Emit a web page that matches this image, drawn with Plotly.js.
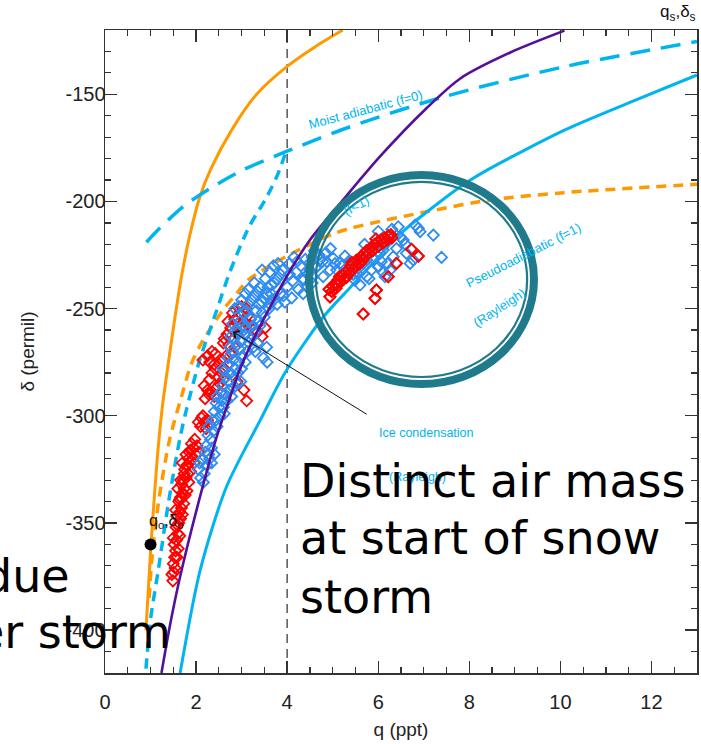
<!DOCTYPE html>
<html>
<head>
<meta charset="utf-8">
<script src="https://cdn.plot.ly/plotly-3.0.1.min.js"></script>
<style>html,body{margin:0;padding:0;background:#fff;}#chart{width:701px;height:744px;}</style>
</head>
<body>
<div id="chart"></div>
<script>
// ---------------- data ----------------
// model curves (q in ppt, delta in permil)
const orangeSolidQ = [0.90, 0.96, 1.02, 1.10, 1.18, 1.27, 1.40, 1.53, 1.68, 1.86, 2.08, 2.32, 2.80, 3.33, 4.00, 4.60, 5.22];
const orangeSolidD = [-400, -378, -357, -333, -312, -294, -274, -255, -235, -216, -198, -185, -166, -150, -137, -128, -120];

const orangeDashQ = [0.97, 1.02, 1.17, 1.42, 1.68, 1.90, 2.12, 2.59, 2.89, 3.14, 3.97, 4.94, 5.39, 7.06, 8.47, 10.07, 13.0];
const orangeDashD = [-385, -369, -341, -311, -291, -275.5, -266, -250.7, -243, -236.7, -225.8, -215.7, -212.5, -204.8, -199.3, -195.9, -192];

const moistQ = [0.91, 1.20, 1.71, 2.30, 3.03, 3.97, 5.39, 7.45, 10.09, 13.0];
const moistD = [-219, -212.5, -202.5, -194, -185.3, -176.8, -165.1, -151.1, -137.1, -125.4];

const iceQ = [0.90, 1.00, 1.17, 1.39, 1.65, 1.79, 2.08, 2.45, 2.74, 3.16, 3.55, 3.80, 3.97];
const iceD = [-418, -395, -372, -341, -310, -297, -274, -251, -233, -212, -198, -187, -177];

const purpleQ = [1.24, 1.42, 1.65, 2.01, 2.45, 2.72, 2.95, 3.22, 3.99, 4.50, 5.16, 6.04, 7.06, 7.81, 8.90, 10.09];
const purpleD = [-420, -398.5, -375, -344, -310, -293, -279, -266, -235, -218, -201, -179, -156.5, -142.5, -130.5, -120.3];

const pseudoQ = [1.65, 2.09, 2.67, 3.41, 3.95, 4.79, 5.39, 5.96, 6.49, 7.81, 8.38, 10.09, 11.5, 13.0];
const pseudoD = [-420, -372, -333, -302, -280, -254, -240, -227, -215, -193, -185.5, -166.7, -154, -141];

// starting point q0, delta0
const startQ = [1.0];
const startD = [-360];

// observations: red diamonds
const redQ = [1.49,1.51,1.50,1.53,1.55,1.52,1.57,1.60,1.56,1.62,1.58,1.64,1.68,1.62,1.66,1.70,1.74,1.68,1.72,1.78,
  1.82,1.75,1.80,1.86,1.92,1.78,1.85,1.95,2.02,1.90,2.10,2.18,2.25,2.12,2.20,2.28,2.36,2.44,2.18,2.52,
  2.48,2.56,2.62,2.50,2.70,2.15,2.25,2.35,2.42,2.66,2.78,2.72,2.82,2.90,2.68,2.76,2.98,3.05,2.85,2.95,
  3.10,3.00,3.20,3.35,3.45,3.52,2.90,3.05,3.11,2.60,2.55,2.35,2.30,
  1.54,1.47,1.58,1.61,1.50,1.64,1.59,1.66,1.70,1.55,1.73,1.64,1.76,1.60,1.80,1.66,1.84,1.74,1.88,1.70,
  1.96,1.83,1.99,1.88,2.06,1.97,2.15,2.05,2.30,2.22,2.40,2.25,2.60,2.42,2.58,2.30,2.85,2.62,2.70,2.92,
  3.08,3.15,2.80,2.40,3.25,
  4.92,5.00,5.06,5.12,5.18,5.22,5.28,5.34,5.40,5.46,5.52,5.58,5.62,5.68,5.74,5.80,5.86,5.92,5.98,6.06,
  6.14,6.22,6.28,5.44,5.30,5.66,5.82,5.07,4.94,6.73,6.88,6.40,6.22,5.96,5.93,5.67,
  4.98,5.10,5.25,5.36,5.50,5.60,5.72,5.88,6.00,6.10,6.20,6.30,5.15,5.42,5.95];
const redD = [-377,-373,-369,-366,-363,-360,-358,-355,-352,-350,-347,-345,-343,-340,-338,-336,-334,-332,-330,-329,
  -327,-325,-323,-322,-320,-318,-317,-315,-314,-313,-305,-303,-302,-301,-292,-290,-289,-287,-286,-285,
  -282,-280,-278,-276,-276,-274,-272,-270,-271,-272,-271,-267,-264,-262,-262,-259,-259,-256,-255,-252,
  -250,-249,-258,-261,-263,-259,-284,-288,-293,-266,-289,-280,-283,
  -371,-374,-366,-362,-357,-356,-351,-348,-346,-344,-341,-339,-337,-334,-335,-330,-331,-327,-326,-322,
  -322,-320,-318,-316,-317,-311,-300,-303,-304,-306,-291,-288,-283,-278,-274,-275,-268,-264,-256,-257,
  -262,-253,-252,-276,-260,
  -241,-239.5,-238,-236.5,-237.5,-234.5,-233,-232,-230,-229,-227.5,-228.5,-226,-224.5,-223,-224,-221,-220,-219,-218,
  -217,-216,-215.5,-232,-235.5,-227.5,-222,-240.5,-244.5,-222.3,-225.5,-228.9,-235.1,-241.3,-245.2,-252.5,
  -242,-238.5,-236,-233.5,-230,-229,-225.5,-223,-221,-219.5,-218,-217,-235,-228.5,-217.5];

// observations: blue diamonds
const blueQ = [2.05,2.10,2.18,2.24,2.14,2.28,2.22,2.32,2.38,2.28,2.44,2.40,2.50,2.56,2.46,2.64,2.72,2.82,2.58,2.90,
  2.98,2.66,2.76,2.86,2.58,2.94,2.70,3.02,2.80,3.12,2.90,3.00,3.20,2.76,3.30,2.86,3.10,3.40,2.96,3.20,
  3.50,3.05,3.32,2.85,3.60,3.15,3.45,3.00,3.70,3.28,3.55,3.85,3.15,3.40,3.65,4.00,3.28,3.52,3.78,4.12,
  3.62,3.90,4.20,4.05,4.30,3.80,4.40,4.15,4.55,4.70,4.85,4.45,4.62,4.25,4.10,3.95,3.48,3.56,2.40,2.34,
  3.35,2.62,
  2.08,2.16,2.20,2.30,2.26,2.34,2.36,2.46,2.52,2.44,2.60,2.54,2.68,2.70,2.78,2.62,2.84,2.92,2.72,3.00,
  2.82,3.08,2.74,2.96,3.16,2.84,3.06,3.26,2.92,3.15,3.36,2.80,3.02,3.25,3.45,2.94,3.10,3.38,3.62,3.22,
  3.50,3.78,3.08,3.35,3.58,3.92,3.72,4.05,3.85,4.35,4.22,4.48,4.60,4.78,4.95,4.55,4.35,3.70,3.45,3.55,
  3.30,3.65,
  5.27,5.38,5.49,5.60,5.75,5.85,6.00,6.07,6.15,6.26,6.33,6.44,6.48,6.55,6.62,6.70,6.77,6.81,6.88,6.92,
  7.21,7.39,6.04,6.11,5.96,5.75,5.67,5.82,5.45,5.53,
  4.36,4.50,4.65,4.72,4.87,5.01,4.94,4.57,4.43,4.79,5.16,5.09,
  5.35,5.58,5.90,6.20,6.40,6.60,5.70,6.00,6.30,5.20,5.05,5.45,6.10,5.80];
const blueD = [-325,-329,-327,-323,-320,-318,-314,-311,-307,-305,-302,-298,-296,-293,-291,-290,-288,-287,-286,-285,
  -284,-282,-280,-278,-278,-275,-273,-272,-270,-270,-267,-265,-264,-263,-261,-260,-259,-258,-256,-255,
  -254,-252,-251,-250,-250,-248,-247,-246,-246,-244,-243,-243,-241,-240,-239,-240,-238,-236,-236,-237,
  -233,-232,-233,-229,-230,-229,-227,-226,-226,-225,-224,-234,-231,-241,-245,-247,-273,-275,-318,-322,
  -266,-299,
  -322,-331,-317,-320,-309,-315,-302,-305,-300,-294,-296,-289,-293,-284,-291,-279,-282,-280,-276,-278,
  -274,-275,-268,-269,-266,-264,-262,-268,-261,-263,-256,-257,-258,-258,-252,-249,-251,-248,-248,-246,
  -245,-248,-243,-242,-240,-244,-238,-234,-234,-236,-228,-229,-223,-228,-222,-238,-243,-230,-232,-268,
  -270,-243,
  -225.5,-232,-236.7,-239,-235.1,-232,-230.5,-228.1,-235.1,-232,-225.8,-211.8,-216.5,-218,-224.2,-228.9,-227.3,-211,-212.5,-214.1,
  -215.7,-226.1,-224.2,-222.7,-219.5,-227.3,-228.9,-224.2,-230.5,-233.5,
  -236.7,-232,-230.5,-227.3,-228.1,-226.5,-232,-235.1,-239.8,-235.1,-228.9,-232,
  -228,-231,-227,-229,-222,-220,-220,-214,-213,-230,-229,-234,-233,-236];

// axis ticks
const xTicks = [0, 2, 4, 6, 8, 10, 12];
const yTicks = [-400, -350, -300, -250, -200, -150];

// ---------------- styling ----------------
const ORANGE = '#ff9900', SKY = '#00b4f0', PURPLE = '#55109a', RED = '#ff0000', BLUE = '#2f8cf0', TEAL = '#1f7a8c';
const AX = '#333333';

function line(x, y, color, width, dash) {
  return {x: x, y: y, type: 'scatter', mode: 'lines', hoverinfo: 'skip',
          line: {color: color, width: width, dash: dash || 'solid', shape: 'spline', smoothing: 0.8}};
}
function diamonds(x, y, color) {
  return {x: x, y: y, type: 'scatter', mode: 'markers',
          marker: {symbol: 'diamond-open', size: 8.5, color: color, line: {color: color, width: 1.8}}};
}

const redHiQ = [], redHiD = [];
redQ.forEach((q, i) => { if (q > 4.5) { redHiQ.push(q); redHiD.push(redD[i]); } });

const traces = [
  line(orangeSolidQ, orangeSolidD, ORANGE, 3),
  line(orangeDashQ, orangeDashD, ORANGE, 3.5, '10px,7px'),
  line(moistQ, moistD, SKY, 3.5, '20px,11px'),
  line(iceQ, iceD, SKY, 3.5, '10px,7px'),
  line(pseudoQ, pseudoD, SKY, 3),
  diamonds(redQ, redD, RED),
  diamonds(blueQ, blueD, BLUE),
  diamonds(redHiQ, redHiD, RED),
  line(purpleQ, purpleD, PURPLE, 2.6),
  {x: startQ, y: startD, type: 'scatter', mode: 'markers', marker: {color: '#000', size: 12}}
];

const FF = '"Liberation Sans", Arial, Helvetica, sans-serif';
const BIG = 'DejaVu Sans, Verdana, sans-serif';

function label(text, x, y, angle, size, color, extra) {
  return Object.assign({text: text, x: x, y: y, xref: 'x', yref: 'y', showarrow: false,
    xanchor: 'center', yanchor: 'middle',
    textangle: angle, font: {family: FF, size: size, color: color}}, extra || {});
}
const bigFont = {family: BIG, size: 46, color: '#000'};

const annotations = [
  label('Moist adiabatic (f=0)', 5.73, -157.3, -15, 13, SKY),
  label('(f<1)', 5.53, -202.1, -28, 13, SKY),
  label('Pseudoadiabatic (f=1)', 9.18, -225, -27, 13, SKY),
  label('(Rayleigh)', 8.67, -249.7, -33, 13, SKY),
  label('Ice condensation', 7.07, -308.1, 0, 12.5, SKY),
  label('(Rayleigh)', 6.87, -328.6, 0, 12.5, SKY),
  label('q<sub>s</sub>,δ<sub>s</sub>', 0.968, 1.027, 0, 17, '#111', {xref: 'paper', yref: 'paper'}),
  label('q<sub>o</sub>,δ<sub>o</sub>', 1.36, -349.1, 0, 16, '#111'),
  {x: 2.81, y: -260.8, ax: 5.78, ay: -299.7, xref: 'x', yref: 'y', axref: 'x', ayref: 'y',
   showarrow: true, arrowhead: 4, arrowsize: 1.6, arrowwidth: 1, arrowcolor: '#111', text: ''},
  label('Distinct air mass', 4.235, -330.5, 0, 46, '#000', {xanchor: 'left', font: bigFont}),
  label('at start of snow', 4.235, -357.2, 0, 46, '#000', {xanchor: 'left', font: bigFont}),
  label('storm', 4.235, -384.6, 0, 46, '#000', {xanchor: 'left', font: bigFont}),
  label('due', -0.0563, 0.1505, 0, 46, '#000', {xref: 'paper', yref: 'paper', xanchor: 'right', font: bigFont}),
  label('er storm', 1.49, -400.9, 0, 46, '#000', {xanchor: 'right', font: bigFont})
];

const shapes = [
  {type: 'line', xref: 'x', yref: 'paper', x0: 4, x1: 4, y0: 0, y1: 1, layer: 'below',
   line: {color: '#555', width: 1.5, dash: '9px,6px'}},
  {type: 'circle', xref: 'x', yref: 'y', x0: 4.48, x1: 9.42, y0: -187.7, y1: -285.2, layer: 'above',
   line: {color: TEAL, width: 8}},
  {type: 'circle', xref: 'x', yref: 'y', x0: 4.63, x1: 9.27, y0: -190.9, y1: -281.9, layer: 'above',
   line: {color: TEAL, width: 2.2}}
];

const axisCommon = {
  ticks: 'inside', ticklen: 12, tickwidth: 1.3, tickcolor: AX, mirror: 'ticks',
  showline: true, linecolor: AX, linewidth: 1.5, showgrid: false, zeroline: false,
  tickfont: {family: FF, size: 20, color: '#222'}
};

const layout = {
  width: 701, height: 744,
  margin: {l: 105, r: 4, t: 30, b: 71},
  paper_bgcolor: '#fff', plot_bgcolor: '#fff',
  showlegend: false,
  xaxis: Object.assign({}, axisCommon, {
    range: [0, 13], tickvals: xTicks, ticktext: xTicks.map(String), ticklabelstandoff: 10,
    minor: {dtick: 0.5, tick0: 0, ticklen: 6, tickwidth: 1.2, tickcolor: AX, ticks: 'inside', showgrid: false},
    title: {text: 'q (ppt)', font: {family: FF, size: 19, color: '#222'}, standoff: 11}
  }),
  yaxis: Object.assign({}, axisCommon, {
    range: [-420, -120], tickvals: yTicks, ticktext: yTicks.map(String), ticklabelstandoff: -6,
    minor: {dtick: 10, tick0: 0, ticklen: 6, tickwidth: 1.2, tickcolor: AX, ticks: 'inside', showgrid: false},
    title: {text: 'δ (permil)', font: {family: FF, size: 19, color: '#222'}, standoff: 26}
  }),
  annotations: annotations,
  shapes: shapes
};

Plotly.newPlot('chart', traces, layout, {displayModeBar: false, staticPlot: true});
</script>
</body>
</html>
